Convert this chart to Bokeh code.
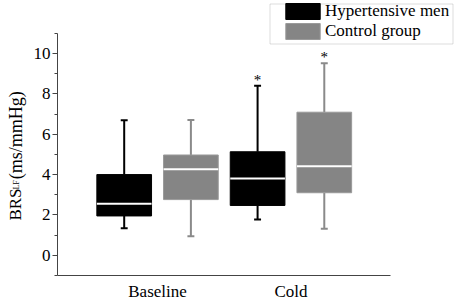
import math
from bokeh.plotting import figure
from bokeh.layouts import row
from bokeh.models import (ColumnDataSource, FixedTicker, Label, Legend, LegendItem,
                          BoxAnnotation, Range1d)
from bokeh.core.properties import value
from bokeh.embed import file_html
from bokeh.resources import INLINE

# ---- data ----
groups = ["Baseline", "Cold"]
series = ["Hypertensive men", "Control group"]
group_pos = [1.0, 2.0]
series_offset = [0.0, 0.5]

ht_min = [1.34, 1.78]
ht_q1 = [1.95, 2.47]
ht_med = [2.56, 3.80]
ht_q3 = [4.00, 5.13]
ht_max = [6.69, 8.40]
ht_sig = [False, True]

ct_min = [0.95, 1.32]
ct_q1 = [2.76, 3.10]
ct_med = [4.26, 4.41]
ct_q3 = [4.97, 7.09]
ct_max = [6.70, 9.51]
ct_sig = [False, True]

y_ticks = [0, 2, 4, 6, 8, 10]
y_minor = [-1, 1, 3, 5, 7, 9, 11]
y_axis_bounds = (-1, 11)
x_axis_bounds = (0.5, 3.0)

FONT = "Liberation Serif"
BOX_W = 0.41
CAP_W = 0.052

LEFT_W = 30          # side strip holding the y-axis title
FRAME_H = 277        # frame height in px (frames are aligned across the row)
X_PX = 134.4         # px per x unit
Y_PX = 20.333        # px per y unit

p = figure(width=454 - LEFT_W, height=303,
           x_range=Range1d(0.5, 0.5 + 400 / X_PX), y_range=Range1d(-1, -1 + FRAME_H / Y_PX),
           output_backend="svg", toolbar_location=None,
           min_border_left=54 - LEFT_W, min_border_right=0, min_border_top=0,
           min_border_bottom=303 - FRAME_H)
p.outline_line_color = None
p.xgrid.visible = False
p.ygrid.visible = False
p.background_fill_color = "white"

ya = p.yaxis[0]
ya.bounds = y_axis_bounds
ya.ticker = FixedTicker(ticks=y_ticks, minor_ticks=y_minor)
ya.major_tick_out = 5
ya.major_tick_in = 0
ya.minor_tick_out = 3
ya.minor_tick_in = 0
ya.axis_line_color = "#444444"
ya.major_tick_line_color = "#444444"
ya.minor_tick_line_color = "#444444"
ya.major_label_text_font = FONT
ya.major_label_text_font_size = "17px"
ya.major_label_text_color = "black"
ya.major_label_standoff = 2

xa = p.xaxis[0]
xa.bounds = x_axis_bounds
tick_x = [g + 0.25 for g in group_pos]
xa.ticker = FixedTicker(ticks=tick_x, minor_ticks=[])
xa.major_label_overrides = {t: g for t, g in zip(tick_x, groups)}
xa.major_tick_out = 0
xa.major_tick_in = 0
xa.minor_tick_out = 0
xa.minor_tick_in = 0
xa.axis_line_color = "#444444"
xa.major_label_text_font = FONT
xa.major_label_text_font_size = "17px"
xa.major_label_text_color = "black"
xa.major_label_standoff = 6

specs = [
    (ht_min, ht_q1, ht_med, ht_q3, ht_max, ht_sig, "black", "black", "black"),
    (ct_min, ct_q1, ct_med, ct_q3, ct_max, ct_sig, "#858585", "#9a9a9a", "#8a8a8a"),
]
box_renderers = []
for i, (mn, q1, md, q3, mx, sig, fill, edge, wcol) in enumerate(specs):
    xs = [g + series_offset[i] for g in group_pos]
    src = ColumnDataSource(dict(
        x=xs, lo=mn, q1=q1, med=md, q3=q3, hi=mx,
        m0=[x - BOX_W / 2 for x in xs], m1=[x + BOX_W / 2 for x in xs],
        c0=[x - CAP_W / 2 for x in xs], c1=[x + CAP_W / 2 for x in xs],
    ))
    p.segment(x0="x", y0="q3", x1="x", y1="hi", source=src, line_color=wcol, line_width=2)
    p.segment(x0="x", y0="lo", x1="x", y1="q1", source=src, line_color=wcol, line_width=2)
    p.segment(x0="c0", y0="hi", x1="c1", y1="hi", source=src, line_color=wcol, line_width=2)
    p.segment(x0="c0", y0="lo", x1="c1", y1="lo", source=src, line_color=wcol, line_width=2)
    r = p.vbar(x="x", width=BOX_W, bottom="q1", top="q3", source=src,
               fill_color=fill, line_color=edge, line_width=1)
    box_renderers.append(r)
    p.segment(x0="m0", y0="med", x1="m1", y1="med", source=src, line_color="white", line_width=2)
    sx = [x for x, s in zip(xs, sig) if s]
    sy = [h for h, s in zip(mx, sig) if s]
    ssrc = ColumnDataSource(dict(x=sx, y=sy, t=["*"] * len(sx)))
    p.text(x="x", y="y", text="t", source=ssrc, text_align="center", text_baseline="middle",
           y_offset=-6, text_font=value(FONT), text_font_size="15px",
           text_color="black", text_outline_color=None,
           background_fill_color=None, border_line_color=None)

legend = Legend(items=[LegendItem(label=series[k], renderers=[box_renderers[k]]) for k in range(2)],
                location=(224, 234), padding=0, spacing=0, margin=0,
                glyph_width=43, glyph_height=20, label_height=20, label_standoff=1,
                label_text_font=FONT, label_text_font_size="17px", label_text_color="black",
                border_line_alpha=0, background_fill_alpha=0)
p.add_layout(legend)

p.add_layout(BoxAnnotation(left=269.5 - LEFT_W, right=452.5 - LEFT_W, top=3.5, bottom=43.5,
                           left_units="canvas", right_units="canvas",
                           top_units="canvas", bottom_units="canvas",
                           fill_alpha=0, line_color="#8c8c8c", line_width=1))

# ---- y axis title: side strip whose data coordinates equal page pixels (y down) ----
lp = figure(width=LEFT_W, height=303, x_range=Range1d(0, LEFT_W), y_range=Range1d(FRAME_H, 0),
            x_axis_location=None, y_axis_location=None, output_backend="svg",
            toolbar_location=None, min_border=0)
lp.outline_line_color = None
lp.xgrid.visible = False
lp.ygrid.visible = False

lp.add_layout(Label(x=15, y=221.7, text="BRS", angle=math.pi / 2,
                    text_align="left", text_baseline="alphabetic",
                    text_font=FONT, text_font_size="17px", text_color="black"))
lp.add_layout(Label(x=16, y=190.5, text="LF", angle=math.pi / 2,
                    text_align="left", text_baseline="alphabetic",
                    text_font=FONT, text_font_size="8px", text_color="black"))
lp.add_layout(Label(x=15, y=180, text="(ms/mmHg)", angle=math.pi / 2,
                    text_align="left", text_baseline="alphabetic",
                    text_font=FONT, text_font_size="18px", text_color="black"))

layout = row(lp, p)
open("out.html", "w").write(file_html(layout, INLINE))
